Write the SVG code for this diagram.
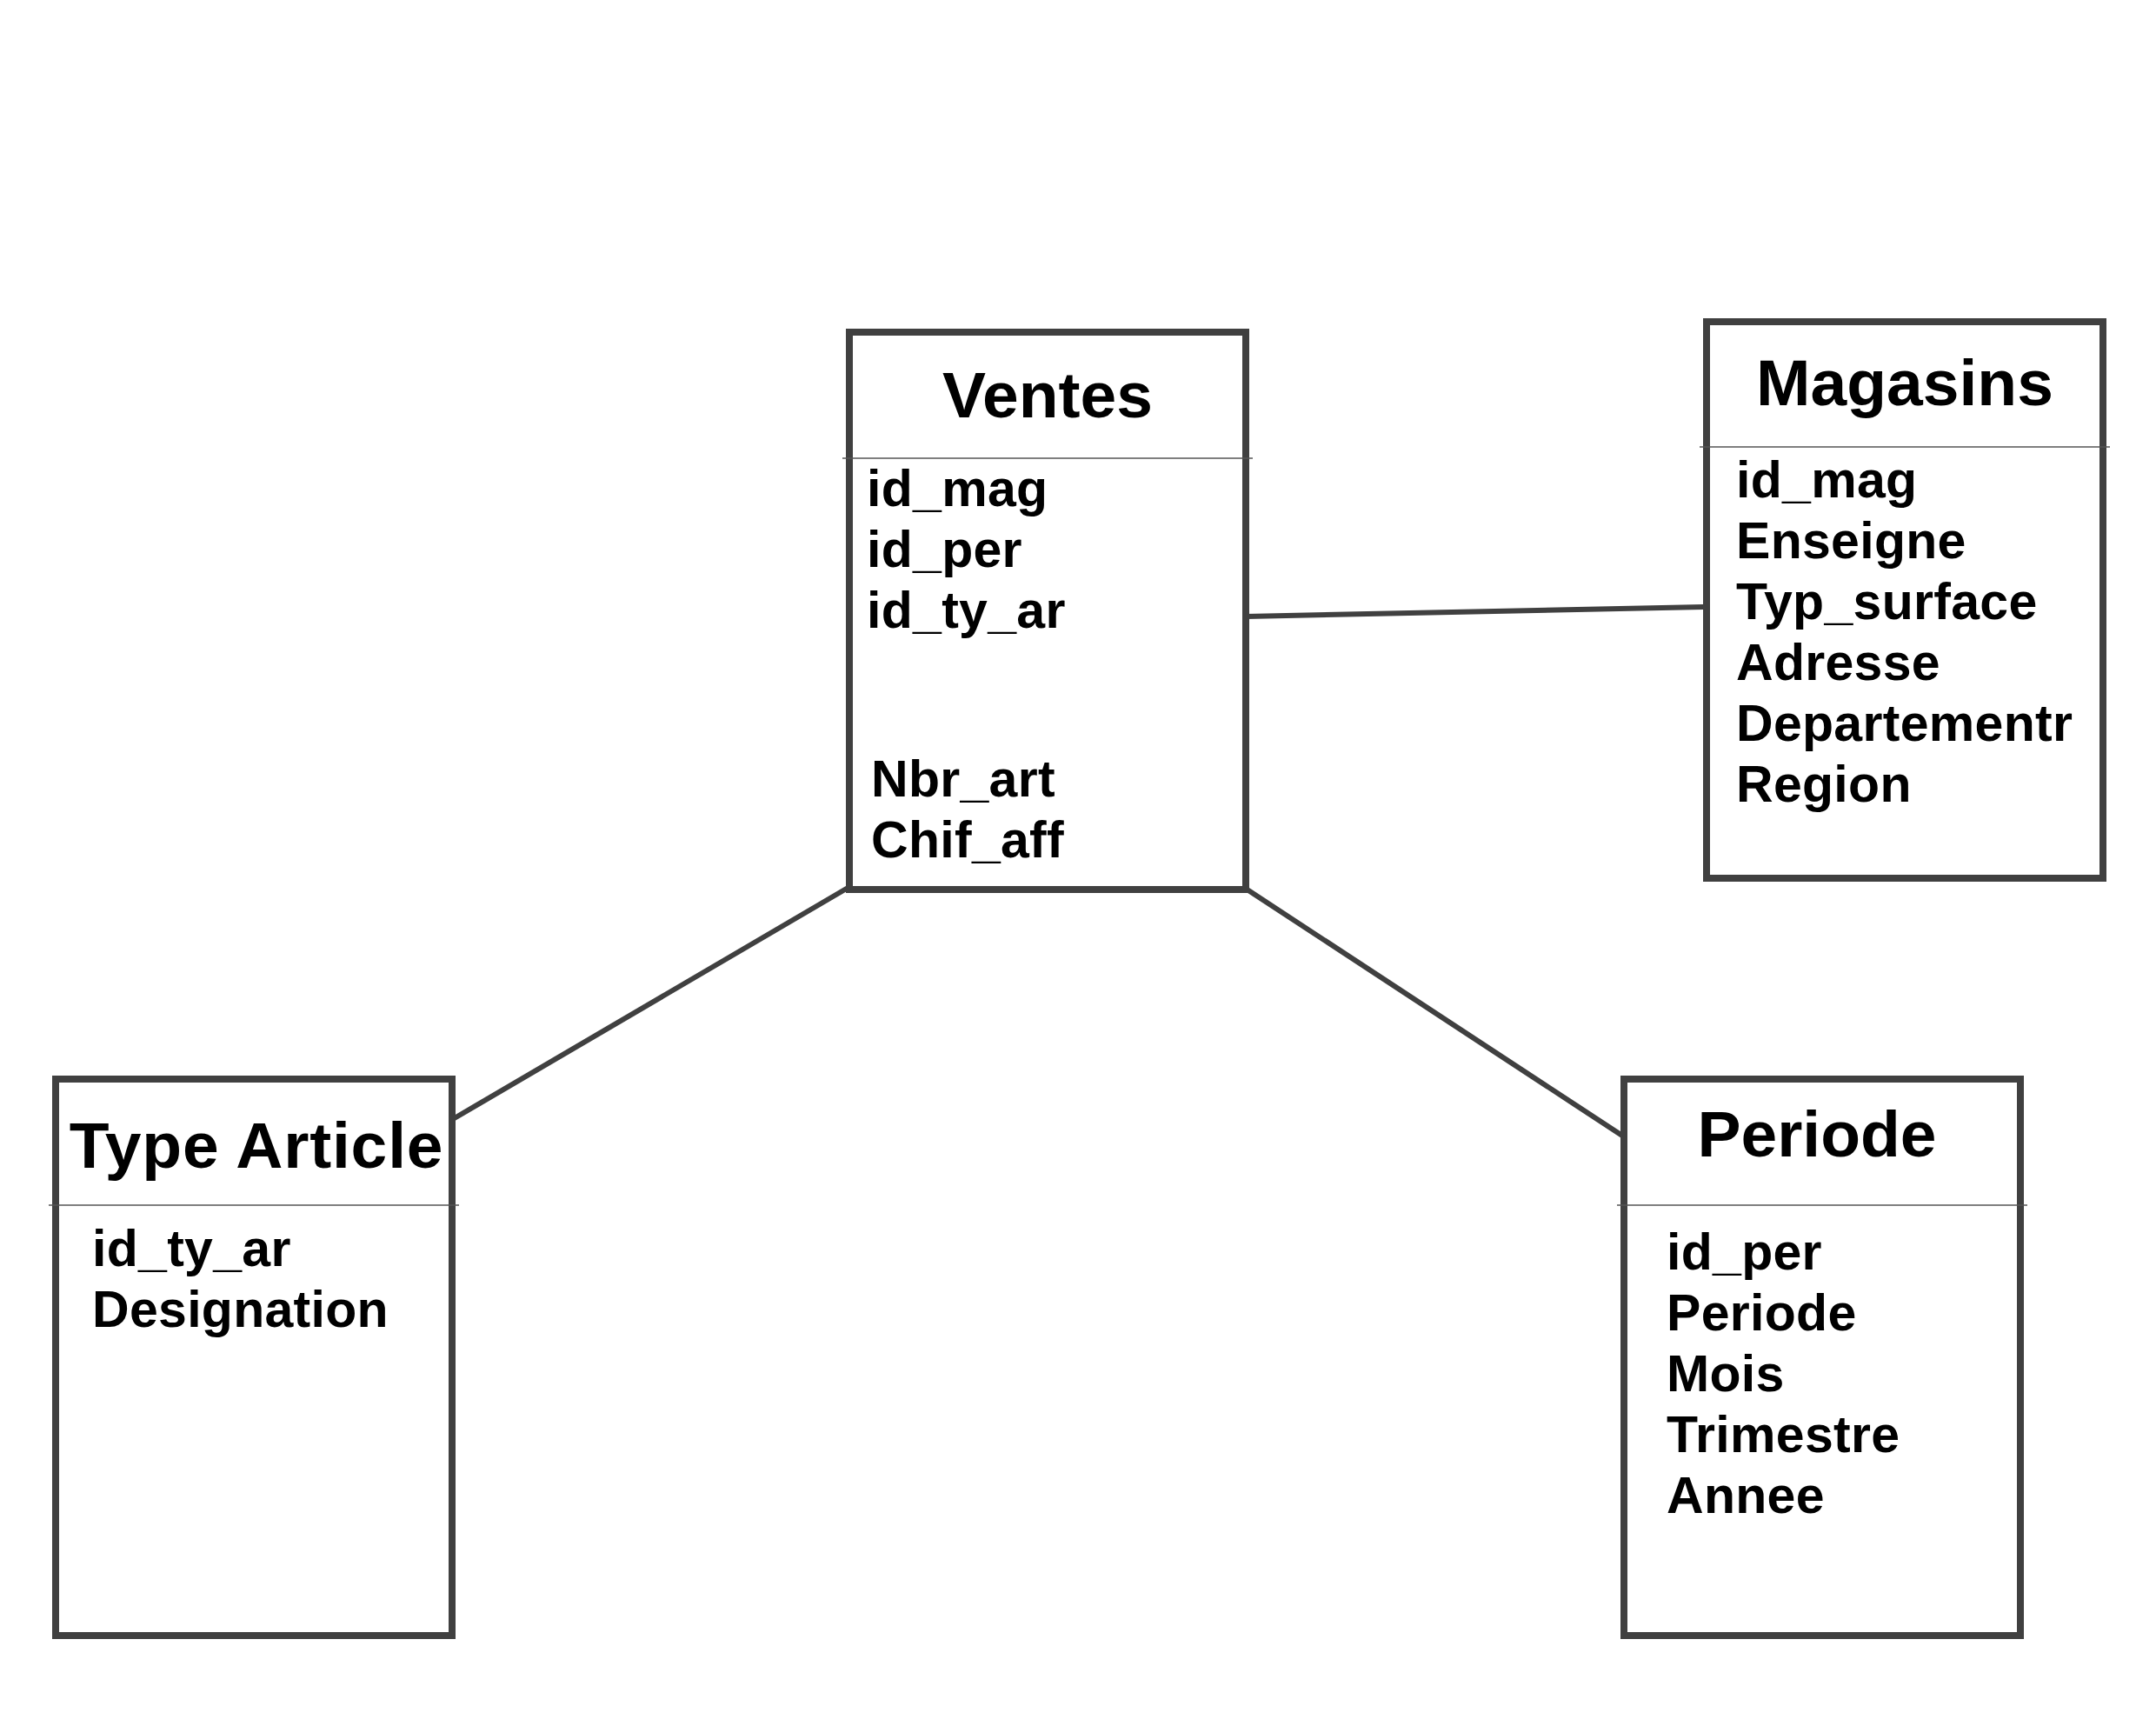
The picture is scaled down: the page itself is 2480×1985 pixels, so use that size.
<svg xmlns="http://www.w3.org/2000/svg" width="2480" height="1985" viewBox="0 0 2480 1985">
<style>
.box{fill:#ffffff;stroke:#404040;stroke-width:8}
.sep{stroke:#555555;stroke-width:1.5}
.conn{stroke:#404040;stroke-width:6;fill:none}
.title{font-family:"Liberation Sans",Arial,sans-serif;font-weight:bold;font-size:75px;fill:#000000;text-anchor:middle}
.field{font-family:"Liberation Sans",Arial,sans-serif;font-weight:bold;font-size:59px;fill:#000000;letter-spacing:0.3px}
</style>
<rect width="2480" height="1985" fill="#ffffff"/>
<g id="connectors">
<line class="conn" x1="1433" y1="709" x2="1960" y2="698"/>
<line class="conn" x1="977" y1="1020" x2="521" y2="1287"/>
<line class="conn" x1="1433" y1="1022" x2="1866" y2="1306"/>
</g>
<g id="ventes">
<rect class="box" x="977" y="382" width="456" height="641"/>
<line class="sep" x1="969" y1="527" x2="1441" y2="527"/>
<text class="title" x="1205" y="480">Ventes</text>
<text class="field" x="997" y="582">id_mag</text>
<text class="field" x="997" y="652">id_per</text>
<text class="field" x="997" y="722">id_ty_ar</text>
<text class="field" x="1002" y="916">Nbr_art</text>
<text class="field" x="1002" y="986">Chif_aff</text>
</g>
<g id="magasins">
<rect class="box" x="1963" y="370" width="456" height="640"/>
<line class="sep" x1="1955" y1="514" x2="2427" y2="514"/>
<text class="title" x="2191" y="466">Magasins</text>
<text class="field" x="1997" y="572">id_mag</text>
<text class="field" x="1997" y="642">Enseigne</text>
<text class="field" x="1997" y="712">Typ_surface</text>
<text class="field" x="1997" y="782">Adresse</text>
<text class="field" x="1997" y="852">Departementr</text>
<text class="field" x="1997" y="922">Region</text>
</g>
<g id="type-article">
<rect class="box" x="64" y="1241" width="456" height="640"/>
<line class="sep" x1="56" y1="1386" x2="528" y2="1386"/>
<text class="title" x="295" y="1343" style="letter-spacing:0.8px">Type Article</text>
<text class="field" x="106" y="1456">id_ty_ar</text>
<text class="field" x="106" y="1526">Designation</text>
</g>
<g id="periode">
<rect class="box" x="1868" y="1241" width="456" height="640"/>
<line class="sep" x1="1860" y1="1386" x2="2332" y2="1386"/>
<text class="title" x="2090" y="1330">Periode</text>
<text class="field" x="1917" y="1460">id_per</text>
<text class="field" x="1917" y="1530">Periode</text>
<text class="field" x="1917" y="1600">Mois</text>
<text class="field" x="1917" y="1670">Trimestre</text>
<text class="field" x="1917" y="1740">Annee</text>
</g>
</svg>
